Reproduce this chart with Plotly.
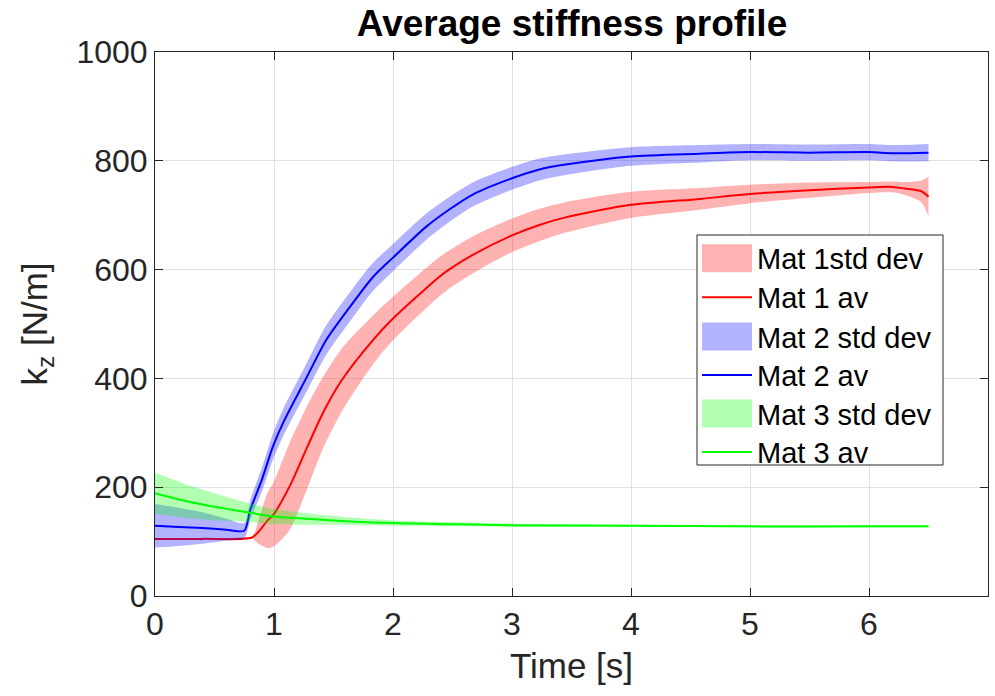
import plotly.graph_objects as go

# ---- data -------------------------------------------------------------
# Mat 1
t1 = [0, 0.4, 0.81, 0.87, 0.95, 0.99, 1.13, 1.28, 1.41, 1.57, 1.83, 2.0,
      2.39, 2.47, 2.67, 2.99, 3.23, 3.45, 4.0, 4.58, 5.0, 5.5, 6.0, 6.2,
      6.3, 6.44, 6.5]
m1 = [105, 105, 107, 118, 140, 148, 201, 274, 336, 397, 470, 510,
      587, 600, 627, 662, 682, 696, 719, 730, 739, 746, 751, 752,
      749, 744, 734]
s1 = [1, 1, 1, 22, 52, 58, 80, 76, 66, 58, 45, 40,
      36, 35, 34, 31, 30, 28, 24, 20, 17, 14, 10, 10,
      12, 20, 36]

# Mat 2
t2 = [0, 0.2, 0.4, 0.6, 0.75, 0.8, 0.9, 0.99, 1.08, 1.27, 1.44, 1.64,
      1.83, 2.0, 2.28, 2.47, 2.67, 2.99, 3.23, 3.45, 4.0, 4.58, 5.0,
      5.5, 6.0, 6.2, 6.5]
m2 = [129, 127, 125, 122, 120, 158, 215, 274, 320, 400, 471, 532,
      586, 622, 679, 710, 738, 767, 784, 793, 808, 813, 816,
      815, 816, 814, 815]
s2 = [40, 35, 29, 20, 14, 18, 22, 24, 25, 26, 27, 27,
      26, 25, 24, 23, 22, 21, 20, 19, 17, 16, 15,
      15, 15, 15, 16]

# Mat 3
t3 = [0, 0.25, 0.5, 0.75, 1.0, 1.5, 2.0, 2.5, 3.0, 4.0, 5.0, 6.0, 6.5]
m3 = [189, 175, 164, 155, 146, 139, 134, 132, 130, 129, 128, 128, 128]
s3 = [38, 31, 25, 18, 14, 8, 5, 4, 3, 2, 2, 2, 2]

band_names = ["Mat 1std dev", "Mat 2 std dev", "Mat 3 std dev"]
av_names = ["Mat 1 av", "Mat 2 av", "Mat 3 av"]
line_colors = ["#ff0000", "#0000ff", "#00ff00"]
band_colors = ["rgba(255,0,0,0.3)", "rgba(0,0,255,0.3)", "rgba(0,255,0,0.3)"]

x_ticks = [0, 1, 2, 3, 4, 5, 6, 7]
y_ticks = [0, 200, 400, 600, 800, 1000]

series = list(zip([t1, t2, t3], [m1, m2, m3], [s1, s2, s3]))

# ---- figure -----------------------------------------------------------
SMOOTH = 0.75
fig = go.Figure()
for i, (t, m, s) in enumerate(series):
    upper = [a + b for a, b in zip(m, s)]
    lower = [a - b for a, b in zip(m, s)]
    fig.add_trace(go.Scatter(
        x=t, y=lower, mode="lines",
        line=dict(width=0, shape="spline", smoothing=SMOOTH),
        showlegend=False, hoverinfo="skip",
    ))
    fig.add_trace(go.Scatter(
        x=t, y=upper, mode="lines", fill="tonexty", fillcolor=band_colors[i],
        line=dict(width=0, shape="spline", smoothing=SMOOTH),
        name=band_names[i], showlegend=False, hoverinfo="skip",
    ))
    fig.add_trace(go.Scatter(
        x=t, y=m, mode="lines",
        line=dict(color=line_colors[i], width=2, shape="spline", smoothing=SMOOTH),
        name=av_names[i], showlegend=False,
    ))

font_family = "Liberation Sans, Arial, Helvetica, sans-serif"
axis_common = dict(
    showline=True, linecolor="#262626", linewidth=1, mirror="ticks",
    ticks="inside", ticklen=8, tickcolor="#262626", tickwidth=1,
    showgrid=True, gridcolor="#e1e1e1", gridwidth=1, zeroline=False,
    tickfont=dict(family=font_family, size=32, color="#262626"),
)

# ---- legend box (paper coordinates) -----------------------------------
L, R, T, B = 155, 988, 52, 596          # plot area in pixels


def px(xp):
    return (xp - L) / (R - L)


def py(yp):
    return (B - yp) / (B - T)


shapes = [dict(type="rect", xref="paper", yref="paper",
               x0=px(697), x1=px(943), y0=py(465), y1=py(235),
               line=dict(color="#262626", width=1), fillcolor="white", layer="above")]
annotations = []
row_y = [258.3, 297.3, 336.5, 375, 413.5, 452]
legend_items = []
for i in range(3):
    legend_items.append(("band", band_names[i], band_colors[i]))
    legend_items.append(("line", av_names[i], line_colors[i]))
for (kind, label, col), yc in zip(legend_items, row_y):
    if kind == "band":
        shapes.append(dict(type="rect", xref="paper", yref="paper",
                           x0=px(702), x1=px(752), y0=py(yc + 14), y1=py(yc - 14),
                           line=dict(width=0), fillcolor=col, layer="above"))
    else:
        shapes.append(dict(type="line", xref="paper", yref="paper",
                           x0=px(702), x1=px(752), y0=py(yc), y1=py(yc),
                           line=dict(color=col, width=2), layer="above"))
    annotations.append(dict(xref="paper", yref="paper", x=px(755), y=py(yc + 1),
                            xanchor="left", yanchor="middle", showarrow=False,
                            text=label,
                            font=dict(family=font_family, size=29, color="black")))

fig.update_layout(
    width=995, height=696,
    margin=dict(l=L, r=995 - R, t=T, b=696 - B),
    paper_bgcolor="white", plot_bgcolor="white",
    title=dict(text="<b>Average stiffness profile</b>", x=(572 / 995), xanchor="center",
               y=1 - 23 / 696, yanchor="middle",
               font=dict(family=font_family, size=37, color="black")),
    xaxis=dict(range=[0, 7], tickvals=x_ticks,
               title=dict(text="Time [s]", standoff=12,
                          font=dict(family=font_family, size=35, color="#262626")),
               **axis_common),
    yaxis=dict(range=[0, 1000], tickvals=y_ticks,
               title=dict(text="k<sub>z</sub> [N/m]", standoff=18,
                          font=dict(family=font_family, size=35, color="#262626")),
               **axis_common),
    shapes=shapes,
    annotations=annotations,
    showlegend=False,
)

fig.write_html("out.html")
